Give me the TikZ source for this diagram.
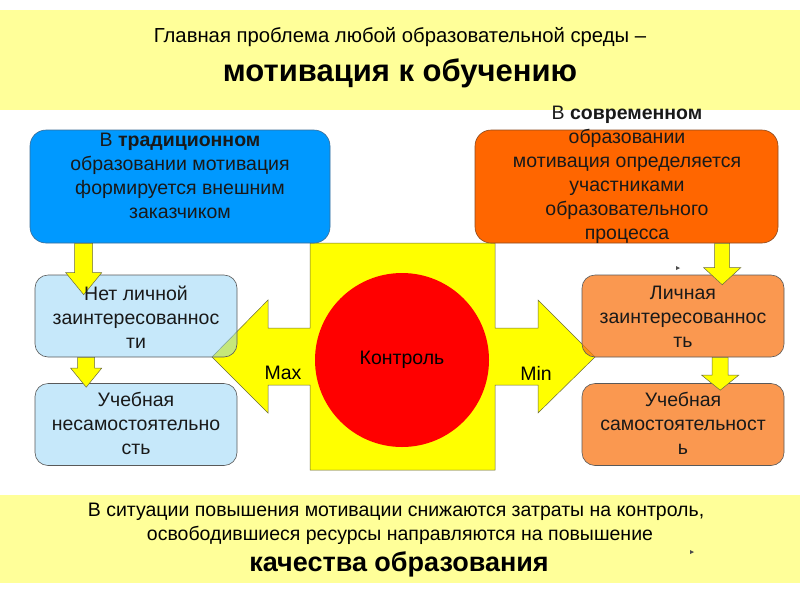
\documentclass[tikz,border=0pt]{standalone}
\usepackage{fontspec}
\setmainfont{Liberation Sans}
\usetikzlibrary{calc}
\definecolor{bannery}{HTML}{FFFF99}
\definecolor{blueD}{HTML}{0099FF}
\definecolor{blueB}{HTML}{3C6C94}
\definecolor{orangeD}{HTML}{FF6600}
\definecolor{orangeB}{HTML}{8A4A20}
\definecolor{lblue}{RGB}{141,209,245}
\definecolor{lorange}{RGB}{248,118,22}
\definecolor{ybright}{HTML}{FFFF00}
\definecolor{edgeg}{HTML}{6A6A40}
\newcommand\blockdown[5]{\draw[barrow] let \p1=(#1), \p2=(#2) in
  (\x1-#3,\y1) -- (\x1+#3,\y1) -- (\x1+#3,\y2+#5) -- (\x1+#4,\y2+#5) --
  (\x1,\y2) -- (\x1-#4,\y2+#5) -- (\x1-#3,\y2+#5) -- cycle;}
\tikzset{
  banner/.style={fill=bannery, draw=none},
  bigbox/.style={rounded corners=16pt, draw=#1, line width=0.6pt, inner sep=0pt},
  smallbox/.style={rounded corners=13pt, draw=gray!70!black, line width=0.6pt, inner sep=0pt,
     minimum width=202pt, minimum height=82pt, fill opacity=#1},
  barrow/.style={fill=ybright, draw=edgeg, line width=0.5pt},
  txt/.style={align=center, inner sep=0pt, font=\fontsize{19.5}{24}\selectfont, text=black!90},
  tinymark/.style={fill=black!70, draw=none},
}
\begin{document}
\begin{tikzpicture}[x=1pt,y=-1pt]
\useasboundingbox (0,0) rectangle (800,600);
% banners
\fill[banner] (0,10) rectangle (800,110);
\fill[banner] (0,495) rectangle (800,583);
\node[inner sep=0pt, font=\fontsize{20.3}{24}\selectfont] (t1) at (400,37) {Главная проблема любой образовательной среды –};
\node[inner sep=0pt, font=\fontsize{31}{34}\selectfont\bfseries] (t2) at (400,73) {мотивация к обучению};
% central shape
\draw[fill=ybright, draw=edgeg, line width=0.5pt]
 (310,243) -- (495,243) -- (495,328) -- (538,328) -- (538,300) -- (595,357) -- (538,413) -- (538,385)
 -- (495,385) -- (495,470) -- (310,470) -- (310,385) -- (268,385) -- (268,413) -- (212,357)
 -- (268,300) -- (268,328) -- (310,328) -- cycle;
\node[circle, fill=red, draw=none, minimum size=174pt, inner sep=0pt, font=\fontsize{19.5}{24}\selectfont] (ctrl) at (402,360) {Контроль};
\node[inner sep=0pt, font=\fontsize{19.5}{24}\selectfont] (max) at (283,373) {Max};
\node[inner sep=0pt, font=\fontsize{19.5}{24}\selectfont] (min) at (536,373) {Min};
% top boxes
\node[bigbox=blueB, fill=blueD, minimum width=300pt, minimum height=113pt] (blue) at (180,186.5) {};
\node[bigbox=orangeB, fill=orangeD, minimum width=303pt, minimum height=113pt] (orange) at (626.5,186.5) {};
% small boxes
\node[smallbox=0.5, fill=lblue] (nl1) at (136,316) {};
\node[smallbox=0.5, fill=lblue] (nl2) at (136,424.5) {};
\node[smallbox=0.75, fill=lorange] (or1) at (683,316) {};
\node[smallbox=0.75, fill=lorange] (or2) at (683,424.5) {};
% block arrows
\blockdown{$(blue.south west)+(54,0)$}{$(nl1.north west)+(49,20)$}{9pt}{18pt}{22pt}
\blockdown{$(nl1.south west)+(51.5,0)$}{$(nl2.north west)+(51.5,4)$}{8.5pt}{15.5pt}{19pt}
\blockdown{$(orange.south west)+(247.5,0)$}{$(or1.north west)+(140,10)$}{7.5pt}{18.5pt}{17pt}
\blockdown{$(or1.south west)+(138.5,0)$}{$(or2.north west)+(138.5,7)$}{8pt}{18.5pt}{15pt}
% texts
\node[txt] (bluet) at (180,176) {В \textbf{традиционном}\\образовании мотивация\\формируется внешним\\заказчиком};
\node[txt] (oranget) at (627,175) {В \textbf{современном}\\образовании\\мотивация определяется\\участниками\\образовательного\\процесса};
\node[txt] (nl1t) at (136,317) {Нет личной\\заинтересованнос\\ти};
\node[txt] (nl2t) at (136,423.5) {Учебная\\несамостоятельно\\сть};
\node[txt] (or1t) at (683,317) {Личная\\заинтересованнос\\ть};
\node[txt] (or2t) at (683,423.5) {Учебная\\самостоятельност\\ь};
% bottom text
\node[inner sep=0pt, font=\fontsize{19.5}{24}\selectfont] (b1) at (396,512) {В ситуации повышения мотивации снижаются затраты на контроль,};
\node[inner sep=0pt, font=\fontsize{19.5}{24}\selectfont] (b2) at (400,535) {освободившиеся ресурсы направляются на повышение};
\node[inner sep=0pt, font=\fontsize{27}{30}\selectfont\bfseries] (b3) at (399,564) {качества образования};
% tiny marks
\fill[tinymark] (676,266) -- (680,268) -- (676,270) -- cycle;
\fill[tinymark] (690,550) -- (694,552) -- (690,554) -- cycle;
\end{tikzpicture}
\end{document}
